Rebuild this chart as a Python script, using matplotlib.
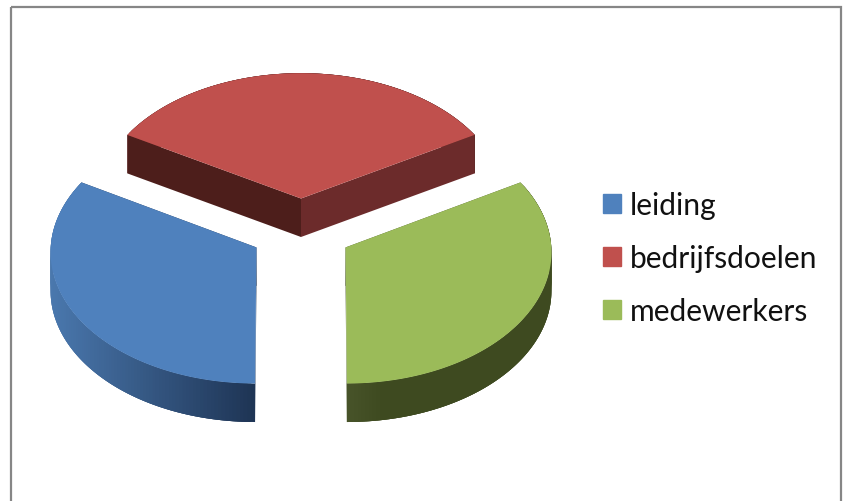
import numpy as np
import matplotlib
matplotlib.use('Agg')
import matplotlib.pyplot as plt
from matplotlib.colors import to_rgb
from matplotlib.patches import Patch, Polygon, Rectangle

# Gegevens van de taartgrafiek
labels = ['leiding', 'bedrijfsdoelen', 'medewerkers']
values = [1, 1, 1]
top_colors = ['#4f81bd', '#c0504d', '#9bbb59']

# Kleuren van de zijkanten: buitenrand (licht, donker) en de twee snijvlakken
rim_colors = [('#4a78ae', '#1e3454'), ('#6c2b2b', '#4d1e1b'), ('#48542a', '#3e4a20')]
cut_colors = [('#1e3454', '#1e3454'), ('#6c2b2b', '#4d1e1b'), ('#48542a', '#48542a')]

# Projectie van het taartvlak op pixels
CX, CY = 301, 232
RX, RY = 205, 131
PERSPECTIVE = 0.03
EXPLODE = 0.25
DEPTH = 38.5
START_ANGLE = 90


def project(gx, gy):
    scale = 1 / (1 - PERSPECTIVE * gy)
    return CX + RX * gx * scale, CY + RY * gy * scale


def blend(c1, c2, t):
    a, b = np.array(to_rgb(c1)), np.array(to_rgb(c2))
    return tuple(a + (b - a) * t)


def add_face(ax, xs, ys, color, z):
    ax.add_patch(Polygon(np.column_stack([xs, ys]), closed=True, facecolor=color,
                         edgecolor='none', linewidth=0, zorder=z))


fig = plt.figure(figsize=(8.45, 5.02), dpi=100)
ax = fig.add_axes([0, 0, 1, 1])
ax.set_xlim(0, 845)
ax.set_ylim(502, 0)
ax.axis('off')

# Kader van het grafiekgebied, de onderkant valt buiten beeld
ax.add_patch(Rectangle((11, 8), 830, 520, fill=False, edgecolor='#868686', linewidth=1.6))

# Per segment: eerst de zijkanten, dan het bovenvlak
spans = np.array(values) / sum(values) * 360
angle = START_ANGLE
for i, span in enumerate(spans):
    theta = np.radians(np.linspace(angle, angle + span, 121))
    mid = np.radians(angle + span / 2)
    ox, oy = EXPLODE * np.cos(mid), EXPLODE * np.sin(mid)

    ax_x, ax_y = project(ox, oy)
    rim_x, rim_y = project(ox + np.cos(theta), oy + np.sin(theta))

    # Buitenrand in overlappende stroken, zo ontstaat een verloop zonder naden
    left, right = rim_x.min(), rim_x.max()
    for j in range(len(theta) - 1):
        end = min(j + 3, len(theta) - 1)
        t = (0.5 * (rim_x[j] + rim_x[j + 1]) - left) / (right - left)
        if i == 2:
            t = min(t * 6, 1)
        color = blend(rim_colors[i][0], rim_colors[i][1], t)
        add_face(ax,
                 [rim_x[j], rim_x[end], rim_x[end], rim_x[j]],
                 [rim_y[j], rim_y[end], rim_y[end] + DEPTH, rim_y[j] + DEPTH],
                 color, 2)

    # Snijvlakken vanaf het middelpunt
    for k, idx in enumerate([-1, 0]):
        add_face(ax,
                 [ax_x, rim_x[idx], rim_x[idx], ax_x],
                 [ax_y, rim_y[idx], rim_y[idx] + DEPTH, ax_y + DEPTH],
                 cut_colors[i][k], 3)

    # Bovenvlak
    add_face(ax, np.r_[ax_x, rim_x], np.r_[ax_y, rim_y], top_colors[i], 4)
    angle += span

# Legenda rechts
handles = [Patch(facecolor=c, edgecolor=c) for c in top_colors]
ax.legend(handles, labels, loc='upper left', bbox_to_anchor=(603 / 845, 0.6175),
          frameon=False, prop={'family': 'Lato', 'size': 21.6},
          handlelength=0.6, handleheight=0.6, handletextpad=0.3,
          labelspacing=0.83, borderpad=0, borderaxespad=0, labelcolor='#111111')

plt.savefig('out.png', dpi=100)
